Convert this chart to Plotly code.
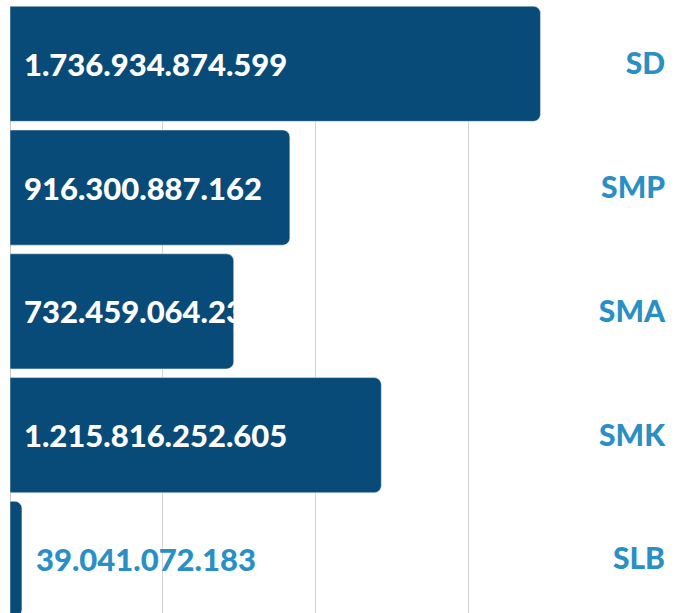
import plotly.graph_objects as go

# data
categories = ["SD", "SMP", "SMA", "SMK", "SLB"]
values = [1736934874599, 916300887162, 732459064239, 1215816252605, 39041072183]

BAR_COLOR = "#084b79"
LABEL_COLOR = "#2a8fc5"
FONT = "Lato"

def fmt(v):
    return f"{v:,}".replace(",", ".")

fig = go.Figure()
fig.add_trace(go.Bar(x=values,
                     y=categories,
                     orientation="h",
                     marker=dict(color=BAR_COLOR, cornerradius=7),
                     hoverinfo="skip"))

# value labels: inside the bar from the left edge, outside for small bars
for cat, v in zip(categories, values):
    small = v < 1e11
    fig.add_annotation(x=v if small else 0,
                       y=cat,
                       text=fmt(v),
                       showarrow=False,
                       xanchor="left",
                       xshift=12,
                       font=dict(family=FONT, size=31, weight=900,
                                 color=LABEL_COLOR if small else "white"))

fig.update_layout(width=677,
                  height=613,
                  margin=dict(l=10, r=9, t=6, b=0),
                  plot_bgcolor="white",
                  paper_bgcolor="white",
                  bargap=0.07,
                  showlegend=False,
                  font=dict(family=FONT))

fig.update_xaxes(range=[0, 2.1546e12],
                 dtick=5e11,
                 showgrid=True,
                 gridcolor="#d4d4d4",
                 gridwidth=1,
                 zeroline=True,
                 zerolinecolor="#c8c8c8",
                 zerolinewidth=1,
                 showticklabels=False)

fig.update_yaxes(type="category",
                 categoryorder="array",
                 categoryarray=categories,
                 range=[4.437, -0.467],
                 side="right",
                 ticklabelposition="inside",
                 ticks="",
                 showgrid=False,
                 tickfont=dict(family=FONT, size=30, weight=900, color=LABEL_COLOR))

fig.write_html("out.html",
               config={"displayModeBar": False},
               post_script="document.body.style.margin = '0';")
